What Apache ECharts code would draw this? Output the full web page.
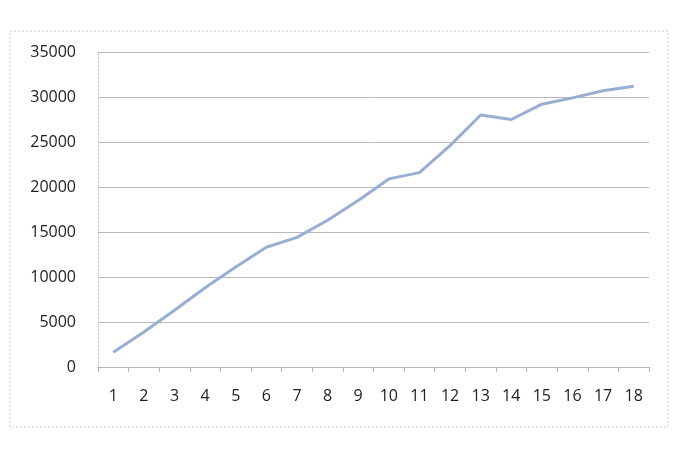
<!DOCTYPE html>
<html>
<head>
<meta charset="utf-8">
<script src="https://cdn.jsdelivr.net/npm/echarts@6/dist/echarts.min.js"></script>
<style>
html,body{margin:0;padding:0;background:#fff;}
#c{width:690px;height:449px;}
</style>
</head>
<body>
<div id="c"></div>
<script>
const categories = ['1','2','3','4','5','6','7','8','9','10','11','12','13','14','15','16','17','18'];
const values = [1650, 3900, 6300, 8800, 11100, 13300, 14400, 16300, 18500, 20900, 21600, 24600, 28000, 27500, 29200, 29900, 30700, 31200];
const yTicks = {min: 0, max: 35000, interval: 5000};

const chart = echarts.init(document.getElementById('c'));
chart.setOption({
  backgroundColor: '#ffffff',
  animation: false,
  graphic: [{
    type: 'rect',
    shape: {x: 10, y: 31, width: 658, height: 396},
    style: {fill: 'none', stroke: '#c8c8c8', lineWidth: 1, lineDash: [2, 2]},
    silent: true
  }],
  grid: {left: 98, right: 41, top: 52, bottom: 82, containLabel: false},
  xAxis: {
    type: 'category',
    data: categories,
    boundaryGap: true,
    axisLine: {show: true, lineStyle: {color: '#b5b5b5', width: 1}},
    axisTick: {show: true, length: 5, inside: false, lineStyle: {color: '#b5b5b5'}},
    axisLabel: {color: '#222', fontFamily: 'Open Sans', fontSize: 16, margin: 21},
    splitLine: {show: false}
  },
  yAxis: {
    type: 'value',
    min: yTicks.min, max: yTicks.max, interval: yTicks.interval,
    axisLine: {show: true, lineStyle: {color: '#c8c8c8', width: 1, type: [2, 2]}},
    axisTick: {show: false},
    axisLabel: {color: '#222', fontFamily: 'Open Sans', fontSize: 16, margin: 22,
      formatter: function (v) { return String(v); }},
    splitLine: {show: true, lineStyle: {color: '#b8b8b8', width: 1}}
  },
  series: [{
    type: 'line',
    data: values,
    symbol: 'none',
    smooth: false,
    lineStyle: {color: '#98aed3', width: 3},
    itemStyle: {color: '#98aed3'}
  }]
});
</script>
</body>
</html>
